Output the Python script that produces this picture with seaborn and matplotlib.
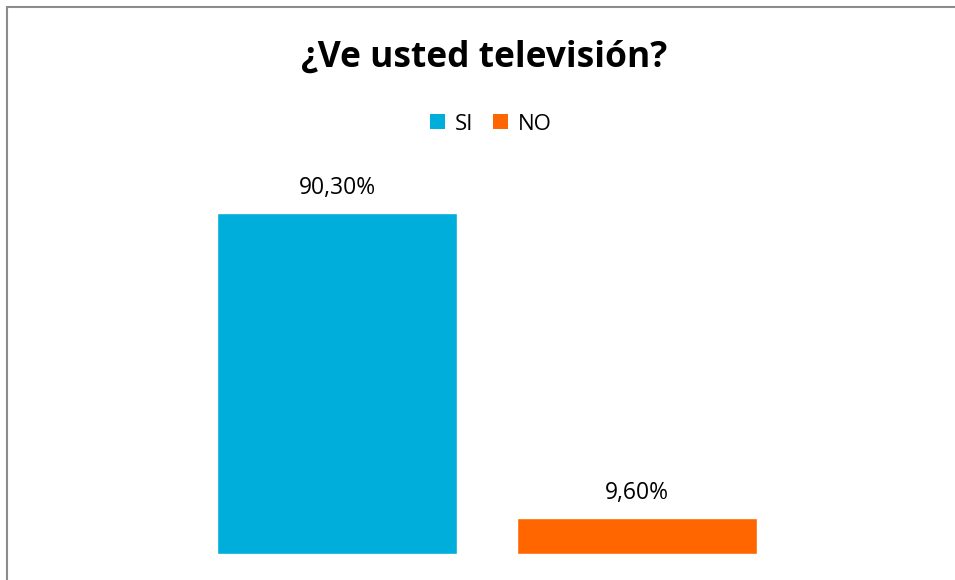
import matplotlib
matplotlib.use("Agg")
import matplotlib.pyplot as plt
import seaborn as sns
import pandas as pd
from matplotlib.patches import Rectangle, Patch

categories = ["SI", "NO"]
values = [90.30, 9.60]
labels = ["90,30%", "9,60%"]
colors = ["#00AEDB", "#FF6600"]
title = "¿Ve usted televisión?"

sns.set_theme(style="white")
plt.rcParams['font.family'] = ['Open Sans', 'DejaVu Sans']
plt.rcParams['text.color'] = '#000000'

df = pd.DataFrame({"cat": categories, "val": values})

fig = plt.figure(figsize=(9.55, 5.8), dpi=100)
ax = fig.add_axes([187/955, 26/580, 600/955, 378/580])
sns.barplot(data=df, x="cat", y="val", hue="cat", palette=colors,
            width=0.8, dodge=False, legend=False, ax=ax, saturation=1)
ax.set_xlim(-0.5, 1.5)
ax.set_ylim(0, 100)
for c, lab in zip(ax.containers, labels):
    ax.bar_label(c, labels=[lab], padding=9, fontsize=16.5, color="#000000")
ax.axis("off")

fig.text(484/955, 1 - 58/580, title, ha="center", va="center",
         fontsize=25.5, fontweight="bold", color="#000000")

handles = [Patch(facecolor=col, edgecolor="none") for col in colors]
leg = fig.legend(handles, categories, loc="center", bbox_to_anchor=(491/955, 1 - 124/580),
                 ncol=2, frameon=False, fontsize=16, handlelength=0.65, handleheight=0.65,
                 handletextpad=0.45, columnspacing=0.9)
for t in leg.get_texts():
    t.set_color("#000000")

fig.patches.append(Rectangle((7/955, -0.1), 1.2, 1 - 7/580 + 0.1, transform=fig.transFigure,
                             fill=False, edgecolor="#8C8C8C", linewidth=1.5, zorder=0))

fig.savefig("out.png", dpi=100)
